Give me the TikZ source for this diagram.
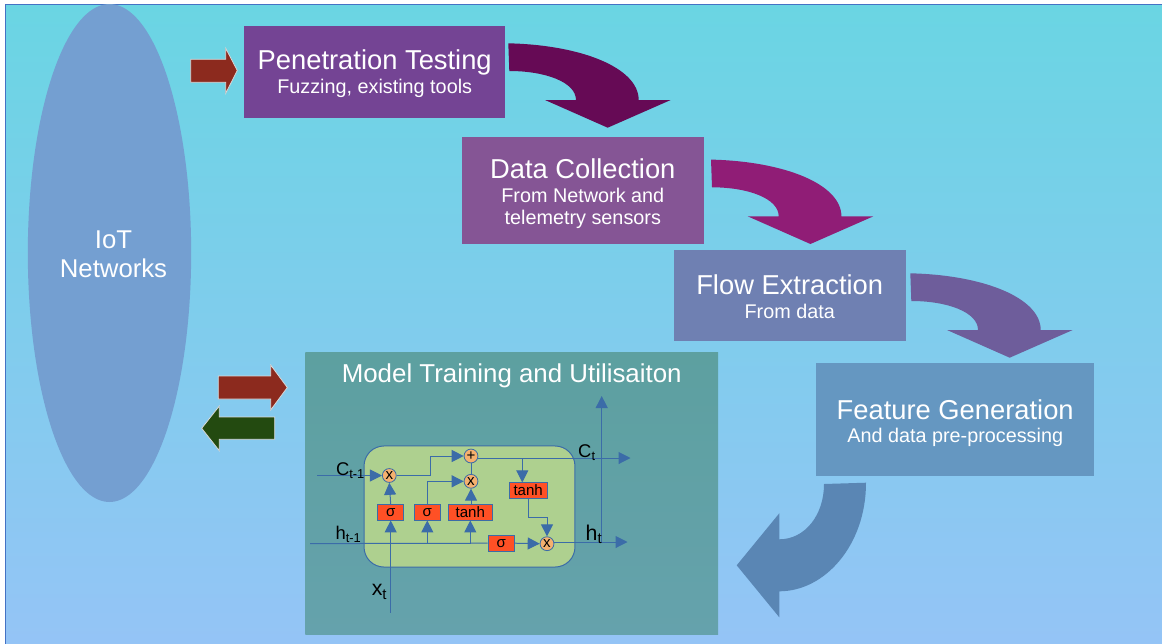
\documentclass[tikz,border=0pt]{standalone}
\usepackage{fontspec}
\setmainfont{Liberation Sans}
\usetikzlibrary{arrows.meta,shapes.geometric}
\definecolor{framecol}{HTML}{4472C4}
\definecolor{bgtop}{HTML}{6AD5E3}
\definecolor{bgbottom}{HTML}{95C4F6}
\definecolor{wirecol}{HTML}{3B6CA8}
\definecolor{opfill}{HTML}{FF5025}
\definecolor{opcirc}{HTML}{F5B06E}
\definecolor{iotcol}{HTML}{749FD1}
\definecolor{pentestcol}{HTML}{744494}
\definecolor{collectcol}{HTML}{855595}
\definecolor{flowcol}{HTML}{6F80B2}
\definecolor{featurecol}{HTML}{6597C1}
\definecolor{bendacol}{HTML}{660A55}
\definecolor{bendbcol}{HTML}{901D76}
\definecolor{bendccol}{HTML}{6E5D9B}
\definecolor{returncol}{HTML}{5A86B4}
\definecolor{redcol}{HTML}{8C2A1E}
\definecolor{greencol}{HTML}{234A10}
\definecolor{modeltop}{HTML}{5DA0A0}
\definecolor{modelbottom}{HTML}{65A2AC}
\definecolor{cellcol}{HTML}{AED08F}
\newcommand{\titlefont}{\fontsize{20.5}{26}\selectfont}
\newcommand{\subfont}{\fontsize{14.85}{16.5}\selectfont\lineskiplimit=-100pt\relax}
\tikzset{
  stagebox/.style={rectangle,inner sep=0pt},
  stagelabel/.style={inner sep=0pt,text=white,align=center,font=\subfont},
  blockarrow/.style={draw=white!85!black,line width=0.6pt,line join=miter},
  wire/.style={draw=wirecol,line width=0.75pt},
  wirearrow/.style={wire,-{Triangle[width=9pt,length=9pt]}},
  opbox/.style={rectangle,draw=wirecol,line width=0.6pt,fill=opfill,inner sep=0pt,minimum height=11.6pt,font=\fontsize{11.3}{13}\selectfont},
  opcircle/.style={circle,draw=wirecol,line width=0.6pt,fill=opcirc,inner sep=0pt,minimum size=10.4pt,font=\fontsize{11.3}{13}\selectfont},
  celllabel/.style={font=\fontsize{13.8}{16}\selectfont,inner sep=0pt},
  biglabel/.style={font=\fontsize{16}{18}\selectfont,inner sep=0pt},
  bendarrow/.pic={
    \fill[pic actions] (508.3,43.3) .. controls (582,45) and (638.7,68) .. (638.7,100)
      -- (670.7,100) -- (607.7,127.7) -- (545,100) -- (576,100)
      .. controls (576,82) and (545,71) .. (509.3,71) -- cycle;
  }
}
\begin{document}
\begin{tikzpicture}[x=0.75pt,y=-0.75pt]
  \useasboundingbox (0,0) rectangle (1162,643);

  % Drawing background
  \shade[top color=bgtop,bottom color=bgbottom,draw=framecol,line width=0.75pt] (5.5,4.5) rectangle (1170,650);

  % Marking IoT ellipse
  \node[ellipse,fill=iotcol,inner sep=0pt,minimum width=122.5pt,minimum height=373.5pt] (iot) at (109.5,253) {};
  \node[text=white,align=center,font=\fontsize{19.3}{21.7}\selectfont] (iotlabel) at (113.5,254) {IoT\\Networks};

  % Marking stage boxes
  \node[stagebox,fill=pentestcol,minimum width=195.4pt,minimum height=68.6pt] (pentest) at (374.7,71.8) {};
  \node[stagelabel] (pentestlabel) at (374.7,73.3) {\titlefont Penetration Testing\\[1.5pt]Fuzzing, existing tools};
  \node[stagebox,fill=collectcol,minimum width=181.3pt,minimum height=80.3pt] (collect) at (582.8,190.5) {};
  \node[stagelabel] (collectlabel) at (582.8,193.5) {\titlefont Data Collection\\[1.5pt]From Network and\\telemetry sensors};
  \node[stagebox,fill=flowcol,minimum width=174pt,minimum height=68pt] (flow) at (789.7,295.3) {};
  \node[stagelabel] (flowlabel) at (789.7,296.3) {\titlefont Flow Extraction\\[1.5pt]From data};
  \node[stagebox,fill=featurecol,minimum width=208.7pt,minimum height=84.8pt] (feature) at (955.2,419.5) {};
  \node[stagelabel] (featurelabel) at (955.2,423.5) {\titlefont Feature Generation\\[0.75pt]And data pre-processing};

  % Drawing bent arrows between stages
  \pic[fill=bendacol] at (0,0) {bendarrow};
  \pic[fill=bendbcol] at (202.7,116.3) {bendarrow};
  \pic[fill=bendccol] at (402,230) {bendarrow};

  % Drawing return arrow
  \fill[returncol] (866,482.7) .. controls (866,545) and (825,591.3) .. (779.3,591.3)
    -- (779.3,617.3) -- (736.7,565.3) -- (779.3,513.3) -- (779.3,539.3)
    .. controls (805,539.3) and (824,515) .. (824,484) -- cycle;

  % Drawing block arrows
  \draw[blockarrow,fill=redcol] (190.7,59.3) -- (225.7,59.3) -- (225.7,48.3) -- (237.3,70.5) -- (225.7,93.3) -- (225.7,82.3) -- (190.7,82.3) -- cycle;
  \draw[blockarrow,fill=redcol] (218.3,376) -- (270.7,376) -- (270.7,365) -- (287.3,387.5) -- (270.7,410) -- (270.7,399) -- (218.3,399) -- cycle;
  \draw[blockarrow,fill=greencol] (274.7,417) -- (219.3,417) -- (219.3,406) -- (201.7,428.3) -- (219.3,450.7) -- (219.3,439.3) -- (274.7,439.3) -- cycle;

  % Marking model box
  \node[rectangle,inner sep=0pt,top color=modeltop,bottom color=modelbottom,minimum width=309.6pt,minimum height=212pt] (model) at (511.7,493.6) {};
  \node[text=white,font=\fontsize{19.4}{23}\selectfont,inner sep=0pt] (modellabel) at (511.7,376) {Model Training and Utilisaiton};

  % Marking cell
  \node[rectangle,rounded corners=15pt,draw=wirecol,line width=0.75pt,fill=cellcol,minimum width=158.2pt,minimum height=90.8pt] (cell) at (469.5,506.5) {};

  % Marking free ends
  \coordinate (cin) at (317.3,475.5);
  \coordinate (hin) at (310,543.6);
  \coordinate (xin) at (390.7,612.7);
  \coordinate (ctout) at (630.5,458);
  \coordinate (htout) at (627.5,542);
  \coordinate (axistop) at (601.7,396);
  \coordinate (axisbase) at (601.7,542);
  \coordinate (elbowa) at (430,456);
  \coordinate (elbowb) at (547,517.3);
  \coordinate (branch) at (522.3,458);

  % Marking operations
  \node[opcircle] (mula) at (389.3,475.5) {x};
  \node[opcircle] (plus) at (471,456) {+};
  \node[opcircle] (mulb) at (471,481.3) {x};
  \node[opcircle] (mulc) at (547,543.7) {x};
  \node[opbox,minimum width=19.7pt] (sigmaa) at (390.7,512.3) {σ};
  \node[opbox,minimum width=19.5pt] (sigmab) at (427.3,512.3) {σ};
  \node[opbox,minimum width=32.8pt] (tanha) at (470.3,512.3) {tanh};
  \node[opbox,minimum width=28.3pt] (tanhb) at (528.2,490.5) {tanh};
  \node[opbox,minimum width=19.7pt] (sigmac) at (501.2,543.2) {σ};

  % Drawing segments in the cell
  \draw[wirearrow] (cin) -- (mula.west);
  \draw[wirearrow] (xin) -- (sigmaa.south);
  \draw[wirearrow] (sigmaa.north) -- (mula.south);
  \draw[wire] (hin) -- (sigmac.west);
  \draw[wirearrow] (sigmab.south |- hin) -- (sigmab.south);
  \draw[wirearrow] (tanha.south |- hin) -- (tanha.south);
  \draw[wirearrow] (mula.east) -| (elbowa) -- (plus.west);
  \draw[wirearrow] (sigmab.north) |- (mulb.west);
  \draw[wirearrow] (tanha.north -| mulb) -- (mulb.south);
  \draw[wire] (mulb.north) -- (plus.south);
  \draw[wirearrow] (plus.east |- ctout) -- (ctout);
  \draw[wirearrow] (branch) -- (branch |- tanhb.north);
  \draw[wire] (tanhb.south) |- (elbowb);
  \draw[wirearrow] (elbowb) -- (mulc.north);
  \draw[wirearrow] (sigmac.east) -- (mulc.west);
  \draw[wirearrow] (mulc.east |- htout) -- (htout);
  \draw[wirearrow] (axisbase) -- (axistop);

  % Marking point labels
  \node[celllabel] (cinlabel) at (350.5,470.5) {C\textsubscript{t-1}};
  \node[celllabel] (hinlabel) at (348.5,534) {h\textsubscript{t-1}};
  \node[celllabel] (ctlabel) at (587,453) {C\textsubscript{t}};
  \node[biglabel] (htlabel) at (594,534.5) {h\textsubscript{t}};
  \node[biglabel] (xtlabel) at (379.5,592) {x\textsubscript{t}};
\end{tikzpicture}
\end{document}
